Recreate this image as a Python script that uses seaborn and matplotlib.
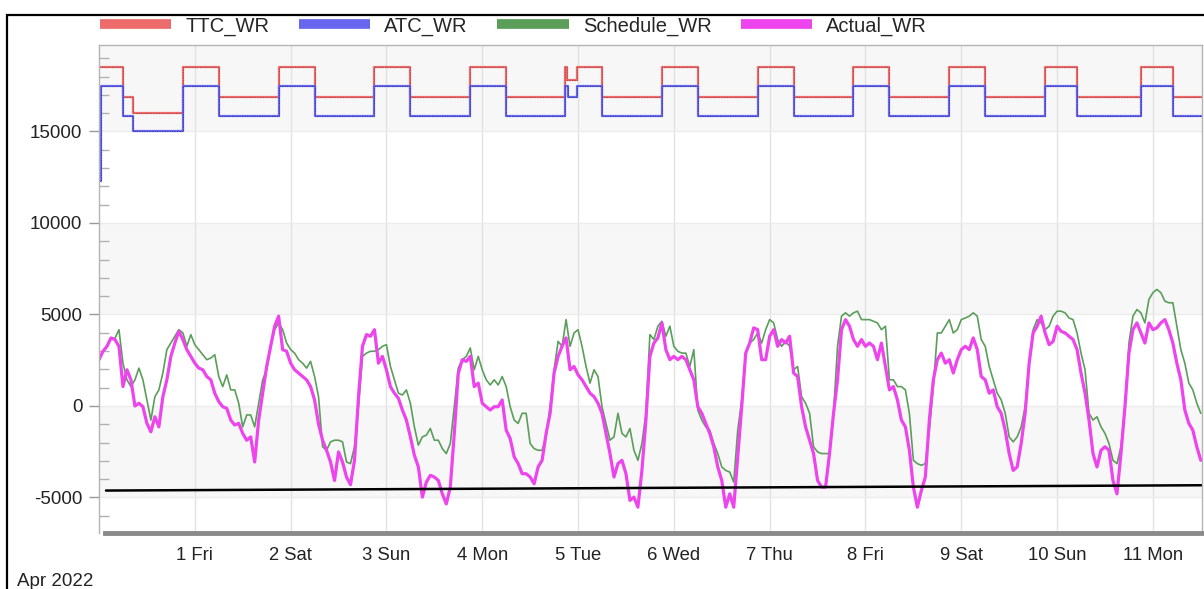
import numpy as np
import pandas as pd
import matplotlib
matplotlib.use('Agg')
import matplotlib.pyplot as plt
import matplotlib.dates as mdates
from matplotlib.lines import Line2D
from matplotlib.patches import Rectangle
from matplotlib.ticker import MultipleLocator
import seaborn as sns

# Inicio de la serie horaria
start = pd.Timestamp('2022-03-31 00:00')

# Valores horarios (un renglon por medio dia)
actual_wr = [
    2530, 2990, 3260, 3720, 3630, 3260, 1060, 1980, 1430, 0, 150, -40,
    -950, -1410, -590, -1140, 510, 1430, 2710, 3440, 4080, 3630, 3080, 2710,
    2340, 2070, 1980, 1610, 1430, 700, 240, -40, -130, -770, -1040, -950,
    -1500, -1870, -1690, -3060, -770, 700, 2160, 3260, 4360, 4910, 3080, 2990,
    2340, 1980, 1800, 1610, 1430, 1060, 330, -1000, -1870, -2420, -3060, -4070,
    -2510, -3060, -3880, -4300, -2970, 500, 3260, 3900, 3810, 4170, 2340, 2710,
    1980, 1060, 700, 420, -220, -770, -1690, -2690, -3330, -4980, -4160, -3790,
    -3880, -4070, -4800, -5350, -4430, -1500, 1790, 2530, 2440, 2710, 1060, 1250,
    150, -40, -220, -40, -40, 330, -1320, -1780, -2780, -3150, -3700, -3700,
    -3880, -4250, -3330, -2970, -1500, -400, 1800, 2710, 3260, 3720, 1980, 2160,
    1700, 1430, 1060, 700, 510, 150, -400, -1500, -2600, -3880, -3150, -2970,
    -3700, -5160, -4980, -5530, -3520, -770, 2710, 3440, 3720, 4540, 3080, 2530,
    2710, 2530, 2710, 2530, 1980, 1430, -40, -400, -950, -1500, -2230, -3330,
    -4070, -5530, -4800, -5530, -2780, -40, 2890, 3440, 4270, 4170, 2530, 2530,
    3810, 4170, 3260, 3630, 3440, 3810, 1800, 1610, -40, -1140, -1870, -2600,
    -4070, -4430, -4430, -2600, -400, 1430, 4170, 4720, 4360, 3630, 3260, 3630,
    3260, 3440, 3260, 2530, 3440, 2160, 880, 1060, 330, -770, -1140, -2420,
    -4430, -5530, -4620, -3880, -770, 1430, 2530, 2890, 2340, 2530, 1800, 2530,
    3080, 3260, 3080, 3720, 3080, 1610, 1430, 700, 880, -40, -400, -1320,
    -2600, -3520, -3330, -2050, -400, 2340, 3990, 4360, 4910, 3990, 3350, 3530,
    4360, 4080, 3990, 3810, 3630, 3080, 1800, 700, -770, -2600, -3330, -2420,
    -2230, -2420, -4070, -4800, -2600, -40, 2890, 4170, 4540, 3990, 3440, 4540,
    4170, 4270, 4540, 4720, 4170, 3440, 2340, 1430, -220, -950, -1320, -2230,
    -2970,
]

schedule_wr = [
    2530, 2990, 3300, 3700, 3700, 4170, 2340, 1430, 1060, 1430, 2070, 1430,
    330, -770, 510, 880, 1800, 3080, 3440, 3810, 4170, 4000, 3260, 3900,
    3350, 3080, 2800, 2530, 2620, 2800, 1610, 1060, 1700, 880, 880, 150,
    -1140, -490, -490, -1140, 150, 1430, 1980, 3260, 4170, 4540, 4170, 3440,
    3080, 2890, 2530, 2340, 2070, 2440, 1610, 500, -2230, -2420, -1960, -1870,
    -1870, -1960, -3060, -3150, -2230, -40, 2710, 2890, 2990, 2990, 3080, 3260,
    3350, 2160, 1430, 700, 600, 880, 150, -1140, -2140, -1690, -1590, -1230,
    -1870, -1870, -2330, -2600, -2050, -40, 2070, 2530, 2710, 3170, 1980, 2710,
    1980, 1430, 1150, 1430, 1150, 1610, 1060, -40, -770, -950, -400, -400,
    -2050, -2330, -2420, -2420, -1690, -40, 1980, 3530, 3260, 4720, 3260, 3990,
    4170, 3260, 2160, 1250, 1980, 1610, -40, -950, -1870, -1690, -400, -1500,
    -1690, -1230, -2420, -2970, -2050, -400, 3900, 3630, 4360, 4630, 3810, 4360,
    3260, 2990, 2890, 2890, 2160, 3080, -220, -770, -1140, -1320, -2050, -2600,
    -3330, -3520, -3610, -4160, -1320, 330, 2890, 3440, 3630, 3990, 3440, 4170,
    4720, 4540, 3630, 3260, 3530, 3260, 1980, 2160, 510, 150, -400, -2230,
    -2510, -2600, -2600, -2600, -400, 3260, 4910, 5090, 4910, 5090, 5180, 4720,
    4720, 4720, 4630, 4540, 4170, 4360, 1430, 1430, 1060, 1060, 880, -400,
    -2970, -3150, -3240, -3150, -1320, 1060, 3990, 3990, 4360, 4720, 3990, 4170,
    4720, 4810, 4910, 5090, 4910, 3630, 3260, 2160, 1430, 700, 330, -400,
    -1690, -1960, -1690, -1140, -40, 2340, 4170, 4720, 4540, 4170, 4360, 4910,
    5180, 5180, 5090, 4810, 4720, 3990, 2890, 1980, -400, -770, -590, -1140,
    -1500, -2050, -2970, -3150, -2230, -40, 3440, 4910, 5270, 5090, 4540, 5820,
    6190, 6370, 6190, 5730, 5640, 5640, 4360, 3080, 2340, 1250, 880, 150,
    -400,
]

# Escalones de TTC y ATC (horas desde el inicio, valor)
ttc_hours = [0, 6, 8.5, 21, 30, 45, 54, 69, 78, 93, 102, 116.7, 117.3, 119.7,
             126, 141, 150, 165, 174, 189, 198, 213, 222, 237, 245, 261, 269, 277]
ttc_wr = [18550, 16900, 16000, 18550, 16900, 18550, 16900, 18550, 16900, 18550,
          16900, 18550, 17800, 18550, 16900, 18550, 16900, 18550, 16900, 18550,
          16900, 18550, 16900, 18550, 16900, 18550, 16900, 16900]

atc_hours = [0, 0.5, 6, 8.5, 21, 30, 45, 54, 69, 78, 93, 102, 116.7, 117.5, 119.7,
             126, 141, 150, 165, 174, 189, 198, 213, 222, 237, 245, 261, 269, 277]
atc_wr = [12300, 17500, 15850, 15000, 17500, 15850, 17500, 15850, 17500, 15850,
          17500, 15850, 17500, 16900, 17500, 15850, 17500, 15850, 17500, 15850,
          17500, 15850, 17500, 15850, 17500, 15850, 17500, 15850, 15850]

# Linea negra de referencia
trend_hours = [1.75, 277]
trend_wr = [-4620, -4330]

day_labels = ['1 Fri', '2 Sat', '3 Sun', '4 Mon', '5 Tue', '6 Wed',
              '7 Thu', '8 Fri', '9 Sat', '10 Sun', '11 Mon']

hourly = start + pd.to_timedelta(np.arange(len(actual_wr)), unit='h')
df = pd.DataFrame({'time': hourly, 'Schedule_WR': schedule_wr, 'Actual_WR': actual_wr})
ttc = pd.DataFrame({'time': start + pd.to_timedelta(ttc_hours, unit='h'), 'value': ttc_wr})
atc = pd.DataFrame({'time': start + pd.to_timedelta(atc_hours, unit='h'), 'value': atc_wr})
trend = pd.DataFrame({'time': start + pd.to_timedelta(trend_hours, unit='h'), 'value': trend_wr})

sns.set_style('white')
plt.rcParams['font.family'] = ['Liberation Sans', 'DejaVu Sans']
plt.rcParams['axes.unicode_minus'] = False

W, H = 1204, 589
fig = plt.figure(figsize=(W / 100, H / 100), dpi=100)
ax = fig.add_axes([99 / W, 1 - 533 / H, 1103 / W, 488 / H])

# Bandas alternas de fondo
for lo, hi in [(15000, 25000), (5000, 10000), (-5000, 0)]:
    ax.axhspan(lo, hi, color='#f7f7f7', zorder=0, lw=0)

c_ttc, c_atc, c_sch, c_act = '#ee6b6b', '#6767ee', '#5a9e5a', '#ee44ee'

sns.lineplot(data=ttc, x='time', y='value', ax=ax, color=c_ttc, lw=1.6,
             drawstyle='steps-post', estimator=None, legend=False)
sns.lineplot(data=ttc, x='time', y='value', ax=ax, color='#a83a3a', lw=0.6,
             linestyle=(0, (1.5, 1.5)), drawstyle='steps-post', estimator=None, legend=False)
sns.lineplot(data=atc, x='time', y='value', ax=ax, color=c_atc, lw=1.6,
             drawstyle='steps-post', estimator=None, legend=False)
sns.lineplot(data=atc, x='time', y='value', ax=ax, color='#2e2e9a', lw=0.6,
             linestyle=(0, (1.5, 1.5)), drawstyle='steps-post', estimator=None, legend=False)
sns.lineplot(data=df, x='time', y='Schedule_WR', ax=ax, color=c_sch, lw=1.2,
             estimator=None, legend=False)
sns.lineplot(data=df, x='time', y='Actual_WR', ax=ax, color=c_act, lw=2.3,
             estimator=None, legend=False)
sns.lineplot(data=trend, x='time', y='value', ax=ax, color='black', lw=1.8,
             estimator=None, legend=False)

ax.set_xlim(start, start + pd.Timedelta(hours=276.3))
ax.set_ylim(-6940, 19725)

# Ejes y marcas
day_ticks = [start + pd.Timedelta(days=d + 1) for d in range(len(day_labels))]
ax.set_xticks(day_ticks)
ax.set_xticklabels(day_labels)
ax.set_yticks([-5000, 0, 5000, 10000, 15000])
ax.yaxis.set_minor_locator(MultipleLocator(1000))
ax.set_xlabel('')
ax.set_ylabel('')

ax.tick_params(axis='x', which='major', direction='inout', length=16, width=1,
               color='#aaaaaa', labelsize=13.3, labelcolor='#222222', pad=2)
ax.tick_params(axis='y', which='major', direction='out', length=7, width=1,
               color='#999999', labelsize=13.5, labelcolor='#222222', pad=5, left=True)
ax.tick_params(axis='y', which='minor', direction='in', length=7, width=1,
               color='#b0b0b0', left=True)

ax.grid(axis='x', color='#e2e2e2', lw=1)
ax.grid(axis='y', which='major', color='#ececec', lw=1)
ax.set_axisbelow(True)

for side in ['left', 'right', 'top']:
    ax.spines[side].set_color('#b4b4b4')
    ax.spines[side].set_linewidth(1)
ax.spines['bottom'].set_color('#8a8a8a')
ax.spines['bottom'].set_linewidth(3.5)
ax.spines['bottom'].set_bounds(mdates.date2num(start + pd.Timedelta(hours=1.5)),
                               mdates.date2num(start + pd.Timedelta(hours=276.3)))

# Leyenda superior
handles = [Line2D([], [], color=c, lw=7, solid_capstyle='butt')
           for c in [c_ttc, c_atc, c_sch, c_act]]
ax.legend(handles, ['TTC_WR', 'ATC_WR', 'Schedule_WR', 'Actual_WR'],
          loc='center left', bbox_to_anchor=(100 / W, 1 - 26 / H),
          bbox_transform=fig.transFigure, ncol=4, frameon=False, borderpad=0,
          borderaxespad=0, handlelength=3.55, handletextpad=0.7,
          columnspacing=1.45, fontsize=14.5)

fig.text(17 / W, 1 - 581 / H, 'Apr 2022', fontsize=13.5, va='center', color='#222222')

# Marco exterior
fig.add_artist(Rectangle((7 / W, -0.1), 1.2, 1.1 - 15 / H, transform=fig.transFigure,
                         fill=False, edgecolor='black', lw=1.6))

fig.savefig('out.png', dpi=100)
